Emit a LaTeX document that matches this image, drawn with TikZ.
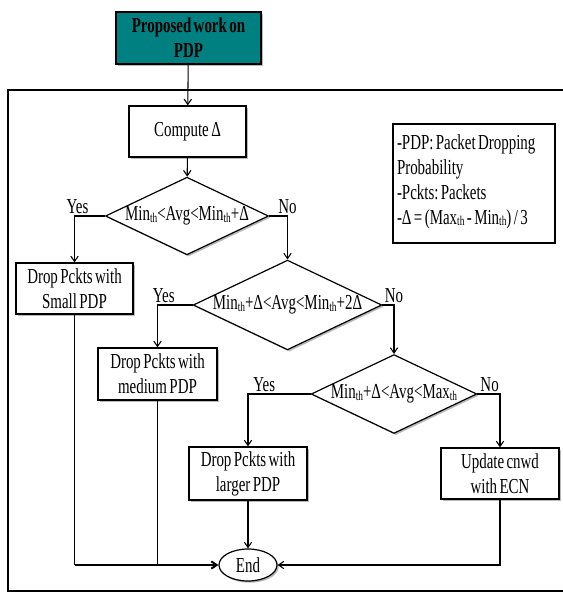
\documentclass[tikz,border=0pt]{standalone}
\usepackage{fontspec}
\setmainfont[FakeStretch=0.7,WordSpace=0.65]{Liberation Serif}
\usetikzlibrary{shapes.geometric,shadows,arrows.meta}
\newcommand\tsub[1]{\raisebox{-0.15ex}{\fontsize{10}{10}\selectfont #1}}
\definecolor{titleteal}{RGB}{0,128,128}
\tikzset{
  every node/.style={font=\fontsize{16}{18.75}\selectfont},
  shd/.style={drop shadow={shadow xshift=1.3pt,shadow yshift=-1.3pt,opacity=0.55}},
  procbox/.style={draw,line width=0.9pt,fill=white,shd,align=center,inner sep=0pt},
  decbox/.style={draw,diamond,line width=0.9pt,fill=white,shd,inner sep=0pt,aspect=2.1},
  conn/.style={line width=0.8pt},
  arr/.style={conn,-{Straight Barb[length=4pt,width=5.5pt]}},
  lbl/.style={above,inner sep=1.5pt}
}
\begin{document}
\begin{tikzpicture}[x=0.75pt,y=-0.75pt]
\useasboundingbox (0,0) rectangle (563,593);
% frame
\draw[line width=1.2pt] (563,90) -- (8,90) -- (8,591) -- (563,591);
% nodes
\node[procbox,fill=titleteal,minimum width=145*0.75pt,minimum height=52*0.75pt,font=\fontsize{16}{18.75}\selectfont\bfseries] (title) at (188.5,38) {Proposed work on\\PDP};
\node[procbox,minimum width=117*0.75pt,minimum height=51*0.75pt] (comp) at (187.5,131.5) {Compute Δ};
\node[decbox,minimum width=160*0.75pt,minimum height=76*0.75pt] (d1) at (187,216) {Min\tsub{th}<Avg<Min\tsub{th}+Δ};
\node[procbox,minimum width=117*0.75pt,minimum height=51*0.75pt] (small) at (74.5,288.5) {Drop Pckts with\\Small PDP};
\node[decbox,minimum width=170*0.75pt,minimum height=86*0.75pt] (d2) at (287.5,305) {Min\tsub{th}+Δ<Avg<Min\tsub{th}+2Δ};
\node[procbox,minimum width=119*0.75pt,minimum height=52*0.75pt] (medium) at (157.5,374) {Drop Pckts with\\medium PDP};
\node[decbox,minimum width=162*0.75pt,minimum height=78*0.75pt] (d3) at (394,394) {Min\tsub{th}+Δ<Avg<Max\tsub{th}};
\node[procbox,minimum width=118*0.75pt,minimum height=53*0.75pt] (larger) at (248,473.5) {Drop Pckts with\\larger PDP};
\node[procbox,minimum width=118*0.75pt,minimum height=51*0.75pt] (ecn) at (500,473.5) {Update cnwd\\with ECN};
\node[draw,ellipse,line width=0.9pt,fill=white,shd,inner sep=0pt,minimum width=58*0.75pt,minimum height=32*0.75pt] (end) at (248,565) {End};
\node[draw,line width=0.8pt,fill=white,drop shadow={shadow xshift=0.8pt,shadow yshift=-0.8pt,opacity=0.4},minimum width=162*0.75pt,minimum height=119*0.75pt,text width=154*0.75pt,align=left,inner sep=0pt] (legend) at (474,183.5) {\spaceskip=0pt\xspaceskip=0pt\frenchspacing
\mbox{-PDP: Packet Dropping}\\\mbox{Probability}\\\mbox{-Pckts: Packets}\\\mbox{-Δ = (Max\tsub{th} - Min\tsub{th}) / 3}\\[-12.5pt]\mbox{}};
% connectors
\draw[arr] (title) -- (comp);
\draw[arr] (comp) -- (d1);
\draw[arr] (d1.west) -| node[lbl,pos=0.45] {Yes} (small.north);
\draw[arr] (d1.east) -| node[lbl,pos=0.5] {No} (d2.north);
\draw[arr] (d2.west) -| node[lbl,pos=0.41] {Yes} (medium.north);
\draw[arr] (d2.east) -| node[lbl,pos=0.5] {No} (d3.north);
\draw[arr] (d3.west) -| node[lbl,pos=0.37] {Yes} (larger.north);
\draw[arr] (d3.east) -| node[lbl,pos=0.27] {No} (ecn.north);
\draw[conn] (small.south) -- (small.south |- end.west);
\draw[arr,line width=1.5pt] (small.south |- end.west) -- (end.west);
\draw[conn] (medium.south) -- (medium.south |- end.west);
\draw[arr] (larger) -- (end);
\draw[arr] (ecn.south) |- (end.east);
\end{tikzpicture}
\end{document}
